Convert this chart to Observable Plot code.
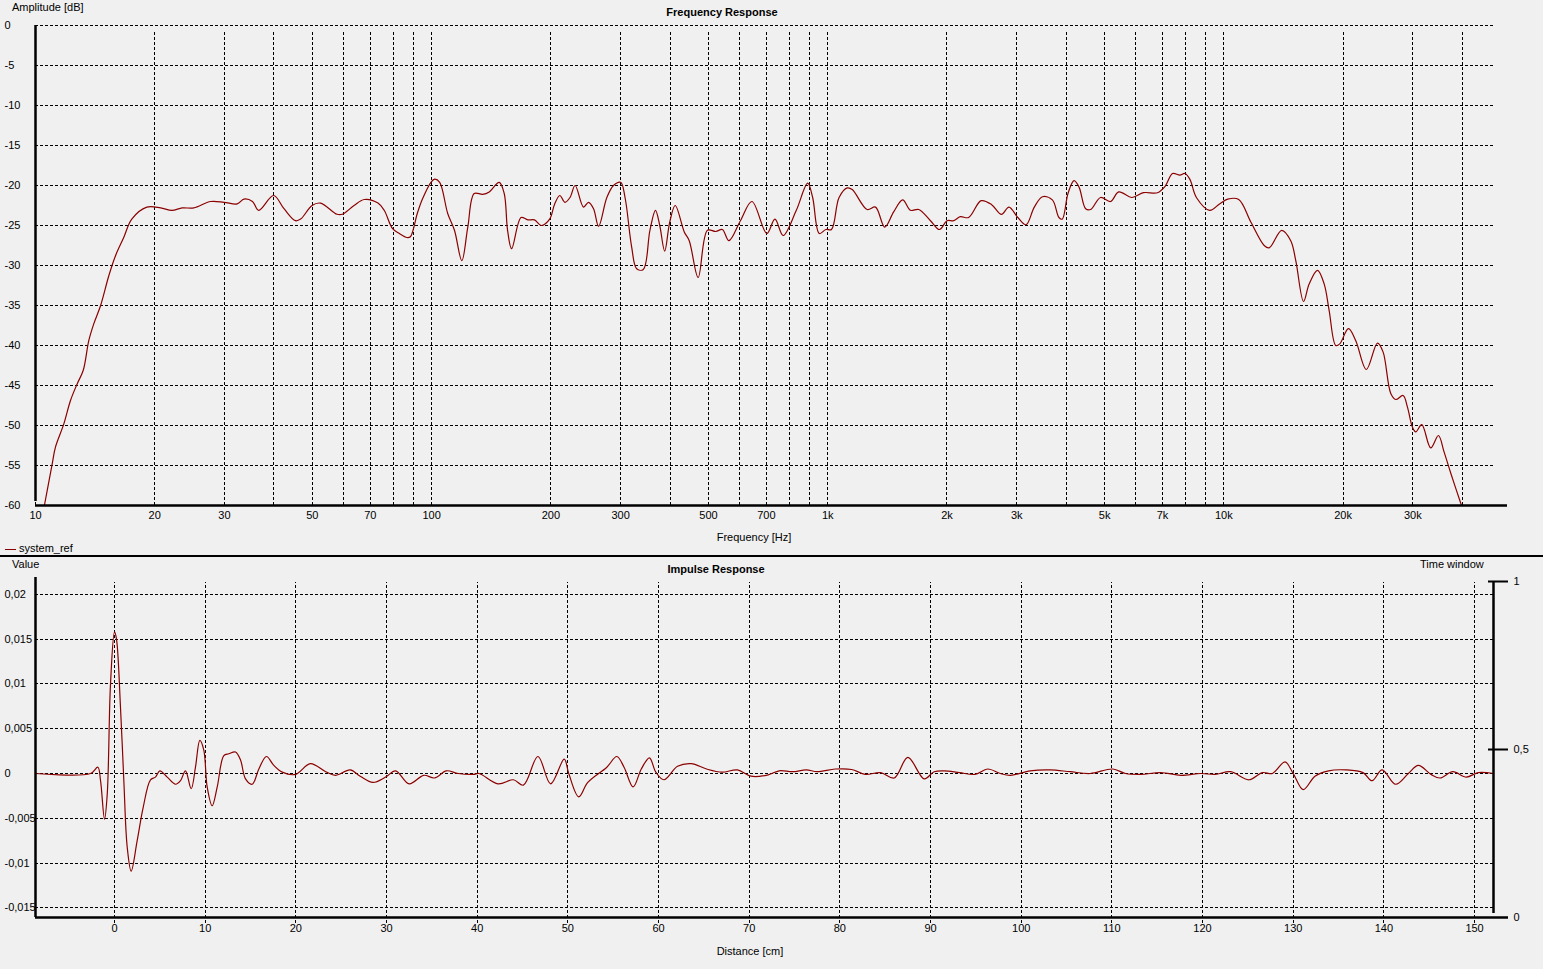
<!DOCTYPE html>
<html><head><meta charset="utf-8">
<script src="https://cdn.jsdelivr.net/npm/d3@7"></script>
<script src="https://cdn.jsdelivr.net/npm/@observablehq/plot@0.6"></script>
<style>
html,body{margin:0;padding:0;background:#f0f0f0;}
body{width:1543px;height:969px;overflow:hidden;position:relative;font-family:"Liberation Sans",Arial,sans-serif;font-size:11px;color:#000;}
.t{position:absolute;white-space:nowrap;line-height:12px;}
.c{transform:translateX(-50%);}
.b{font-weight:bold;}
#top,#bot,#win{position:absolute;left:0;}
#top{top:0;} #bot{top:556px;} #win{top:556px;}
#sep{position:absolute;left:0;top:555px;width:1543px;height:2px;background:#000;}
</style></head><body>
<div id="top"></div>
<div id="bot"></div>
<div id="win"></div>
<div id="sep"></div>
<div class="t" style="left:12px;top:1px;">Amplitude [dB]</div>
<div class="t c b" style="left:722px;top:6px;">Frequency Response</div>
<div class="t c" style="left:754px;top:531px;">Frequency [Hz]</div>
<div class="t" style="left:5px;top:542px;"><span style="display:inline-block;width:11px;height:1px;background:#8b0000;vertical-align:middle;margin-right:3px;"></span>system_ref</div>
<div class="t" style="left:12px;top:558px;">Value</div>
<div class="t c b" style="left:716px;top:563px;">Impulse Response</div>
<div class="t" style="left:1420px;top:558px;">Time window</div>
<div class="t c" style="left:750px;top:945px;">Distance [cm]</div>
<script>
// ---------- Frequency response data ----------
const freqHz = [10.53,11.02,11.23,11.79,12.25,12.74,13.2,13.63,14.03,14.6,15.32,15.93,16.7,17.5,19.1,20.7,22.1,23.46,25.1,27.68,29.93,32.3,33.6,35.3,36.6,39.9,42.4,45.3,46.7,49.9,52.4,57.7,59.5,63.7,67.6,73.2,75.9,79.7,82.9,86.6,88.4,92,94.8,99.6,101.8,104.8,109.8,114.2,119.2,123.4,128.1,134.5,139.8,148.1,152.5,155.5,159.2,168.2,174.9,181.8,189.1,198.6,204.5,210.7,217,223.5,230.3,241.8,248.9,256.3,263.9,276.9,287.8,300,307.8,319.9,329.3,342.3,355.7,367.4,376.6,387.6,399,412,434.3,447,470.8,496.9,521.5,541.9,562.9,601.9,643.6,701.8,735.7,771.6,833,890,916,952,989,1022,1068,1120,1153,1257,1320,1393,1467,1546,1617,1697,1817,1915,2001,2080,2161,2268,2440,2593,2745,2867,3019,3167,3322,3485,3690,3834,3909,4041,4185,4309,4478,4609,4883,5173,5428,5860,6268,6800,7106,7420,7745,7970,8203,8524,9205,9751,10230,10901,11704,12640,13013,13996,14751,15189,15889,16416,17233,17911,18437,19163,19614,20629,21527,22890,24419,25226,26383,27162,28343,29069,29926,30510,31590,33280,34804,35964,37413,39800];
const ampDb = [-60,-54.8,-52.7,-49.8,-46.9,-44.8,-43.1,-39.4,-37.3,-35,-31.25,-28.75,-26.5,-24.2,-22.7,-22.8,-23.1,-22.8,-22.8,-22,-22.1,-22.3,-21.7,-22,-23.1,-21.25,-22.9,-24.4,-24.2,-22.5,-22.2,-23.6,-23.6,-22.5,-21.75,-22.2,-23.1,-25.4,-26,-26.5,-26.4,-23.5,-21.7,-19.6,-19.2,-19.6,-23.5,-25.6,-29.4,-25.2,-21,-21.1,-20.8,-19.6,-21,-25.6,-27.9,-24,-24.3,-24.3,-25,-24.2,-22.3,-21.25,-22.1,-21.5,-20,-22.7,-22.1,-22.9,-25.1,-21.5,-20,-19.6,-21.5,-27.7,-30.4,-30.5,-25.6,-23.1,-25,-28.2,-24.6,-22.5,-25.8,-26.9,-31.5,-25.6,-25.75,-25.5,-26.9,-24.4,-22,-26,-24.2,-26.25,-23.1,-19.7,-21.5,-26,-25.5,-25.5,-21.5,-20.3,-20.5,-23,-22.7,-25.2,-23.3,-21.8,-23.1,-23,-24.4,-25.5,-24.4,-24.4,-23.9,-24,-21.9,-22.4,-23.6,-22.7,-24,-24.9,-22.7,-21.4,-21.8,-24,-24.2,-21,-19.4,-20.2,-22.9,-23,-21.5,-22,-20.8,-21.5,-20.9,-20.9,-20.1,-18.5,-18.7,-18.5,-19.2,-21.5,-23.1,-22.3,-21.7,-21.75,-24.6,-27.5,-27.8,-25.6,-26.9,-29.4,-34.5,-32.3,-30.6,-32.3,-35.6,-40,-39.8,-37.9,-39.4,-43,-39.7,-40.8,-46,-46.75,-46.25,-47.7,-50.2,-50.8,-49.9,-52.8,-51.25,-53.3,-56,-60];

const freqGrid = [10,20,30,40,50,60,70,80,90,100,200,300,400,500,600,700,800,900,1000,2000,3000,4000,5000,6000,7000,8000,9000,10000,20000,30000,40000];
const freqTickVals = [10,20,30,50,70,100,200,300,500,700,1000,2000,3000,5000,7000,10000,20000,30000];
const freqTickLabels = ["10","20","30","50","70","100","200","300","500","700","1k","2k","3k","5k","7k","10k","20k","30k"];
const ampTicks = [0,-5,-10,-15,-20,-25,-30,-35,-40,-45,-50,-55,-60];

// ---------- Impulse response data ----------
const distCm = [-8.7,-2.65,-1.84,-1.54,-1.1,-0.8,-0.44,0,0.22,0.66,1.03,1.4,1.84,2.5,3.16,3.97,4.52,5.0,5.81,6.73,7.28,7.83,8.46,8.93,9.41,9.85,10.22,10.77,11.33,12.06,12.61,13.35,13.9,14.45,15.19,15.92,16.76,17.57,18.5,19.96,21.6,23.3,24.4,26,27.1,28.5,29.9,31,32.5,34.1,35.3,36.6,37.9,39.6,40.2,42.3,44,45.1,46.7,48.1,49.6,50.1,51.2,52.2,54.3,55.4,56.2,57.2,58.1,59,59.7,60.6,62.1,63.6,65.3,67,68.7,70.2,72.1,73.3,74.8,76.3,77.5,79.5,81.3,82.8,84.5,86,87.5,89.3,90.4,91.5,93.2,94.9,96.3,97.7,98.8,101,103.2,105.4,107.6,110.1,111.5,113.2,115.4,117.6,119.8,121.4,123.1,125.1,126.6,127.7,129.1,130,131.1,132.4,133.9,135.8,137.7,138.7,139.8,141.3,142.7,143.8,145.2,146.2,147.6,149.1,150.4,152.1];
const impulseVal = [0,0,0.0007,-0.0008,-0.0051,-0.0023,0.01,0.0158,0.015,0.0074,-0.0008,-0.0082,-0.0109,-0.0075,-0.0038,-0.0007,-0.0004,0.0003,-0.0004,-0.0012,-0.0008,0.0003,-0.0017,0.0007,0.0037,0.0026,-0.0015,-0.0036,-0.0015,0.002,0.0022,0.0024,0.0015,-0.0006,-0.0012,0.0005,0.0019,0.0009,0.00015,-0.0001,0.0011,0.0002,-0.0002,0.0004,-0.0003,-0.001,-0.0004,0.0003,-0.00115,-0.0002,-0.0005,0.0003,0,-0.0001,0,-0.00115,-0.0007,-0.0013,0.0019,-0.00115,0.0016,0,-0.0026,-0.001,0.0007,0.0019,0.0007,-0.0015,0.0005,0.00175,0.00015,-0.0007,0.0008,0.0011,0.0005,0.00015,0.0004,-0.0003,-0.00015,0.0003,0.0002,0.0004,0.0002,0.0005,0.00045,-0.0001,0.0001,-0.0005,0.0018,-0.0006,0.0002,0.0003,0.0001,-0.0001,0.0005,0,-0.0002,0.0003,0.0004,0.0002,0,0.0005,0,-0.0001,0.0001,-0.0002,0,-0.0001,0.0002,-0.0007,0.0001,0,0.0013,0,-0.0018,-0.0003,0.0003,0.0004,0.0001,-0.0008,0.0004,-0.0012,0,0.0009,-0.0001,-0.0005,0.0002,-0.0004,0.0001,0];

const distGrid = [0,10,20,30,40,50,60,70,80,90,100,110,120,130,140,150];
const valTicks = [0.02,0.015,0.01,0.005,0,-0.005,-0.01,-0.015];
const valLabels = ["0,02","0,015","0,01","0,005","0","-0,005","-0,01","-0,015"];
const winTicks = [0,0.5,1];
const winLabels = ["0","0,5","1"];

const LINE = "#8b0000";
const DASH = "3,2";
const FONT = {background:"none", fontFamily:"'Liberation Sans', Arial, sans-serif", fontSize:"11px", color:"#000", overflow:"visible"};

const fr = freqHz.map((f,i)=>({f, db: ampDb[i]}));
const ir = distCm.map((d,i)=>({d, v: impulseVal[i]}));

const fMin = 10, fMax = 52000, fGridEnd = 47900;
const topPlot = Plot.plot({
  width:1543, height:556,
  marginLeft:35, marginRight:36, marginTop:25, marginBottom:51,
  x:{type:"log", domain:[fMin,fMax], axis:null},
  y:{domain:[-60,0], axis:null},
  style:FONT,
  marks:[
    Plot.ruleY(ampTicks.filter(d=>d>-60), {y:d=>d, x1:fMin, x2:fGridEnd, stroke:"#000", strokeDasharray:DASH, shapeRendering:"crispEdges"}),
    Plot.ruleX(freqGrid, {x:d=>d, y1:-60, y2:0, insetBottom:-6, stroke:"#000", strokeDasharray:DASH, shapeRendering:"crispEdges"}),
    Plot.line(fr, {x:"f", y:"db", stroke:LINE, strokeWidth:1.2, curve:"catmull-rom"}),
    Plot.ruleY([-60], {x1:fMin, x2:fMax, stroke:"#000", strokeWidth:2.5}),
    Plot.ruleX([fMin], {y1:-60, y2:0, insetTop:-4, stroke:"#000", strokeWidth:2.5}),
    Plot.text(ampTicks, {y:d=>d, text:d=>String(d), frameAnchor:"left", dx:-31, textAnchor:"start"}),
    Plot.text(freqTickVals, {x:d=>d, text:(d,i)=>freqTickLabels[i], frameAnchor:"bottom", dy:13})
  ]
});
document.getElementById("top").appendChild(topPlot);

const dMin = -8.713, dMax = 152.09, vMin = -0.016071, vMax = 0.021875;
const botPlot = Plot.plot({
  width:1543, height:413,
  marginLeft:35, marginRight:50, marginTop:21, marginBottom:52,
  x:{domain:[dMin,dMax], axis:null},
  y:{domain:[vMin,vMax], axis:null},
  style:FONT,
  marks:[
    Plot.ruleY(valTicks, {y:d=>d, x1:dMin, x2:dMax, stroke:"#000", strokeDasharray:DASH, shapeRendering:"crispEdges"}),
    Plot.ruleX(distGrid, {x:d=>d, y1:vMin, y2:vMax, insetTop:6, insetBottom:-5, stroke:"#000", strokeDasharray:DASH, shapeRendering:"crispEdges"}),
    Plot.line(ir, {x:"d", y:"v", stroke:LINE, strokeWidth:1.2, curve:"catmull-rom"}),
    Plot.ruleX([dMin], {y1:vMin, y2:vMax, stroke:"#000", strokeWidth:2.5}),
    Plot.text(valTicks, {y:d=>d, text:(d,i)=>valLabels[i], frameAnchor:"left", dx:-31, textAnchor:"start"}),
    Plot.text(distGrid, {x:d=>d, text:d=>String(d), frameAnchor:"bottom", dy:14})
  ]
});
document.getElementById("bot").appendChild(botPlot);

// Time window (right axis) overlay: 0 at bottom of frame, 1 near top
const winPlot = Plot.plot({
  width:1543, height:413,
  marginLeft:35, marginRight:50, marginTop:25, marginBottom:52,
  x:{domain:[dMin,dMax], axis:null},
  y:{domain:[0,1], axis:null},
  style:FONT,
  marks:[
    Plot.ruleY([0], {x1:dMin, x2:dMax, insetRight:-15, stroke:"#000", strokeWidth:2.5}),
    Plot.ruleX([dMax], {y1:0, y2:1, insetTop:-4, stroke:"#000", strokeWidth:2.5}),
    Plot.ruleY(winTicks.filter(d=>d>0), {y:d=>d, x1:dMax, x2:dMax, insetLeft:-5, insetRight:-15, stroke:"#000", strokeWidth:2}),
    Plot.text(winTicks, {x:dMax, y:d=>d, text:(d,i)=>winLabels[i], dx:20, textAnchor:"start"})
  ]
});
document.getElementById("win").appendChild(winPlot);
</script>
</body></html>
